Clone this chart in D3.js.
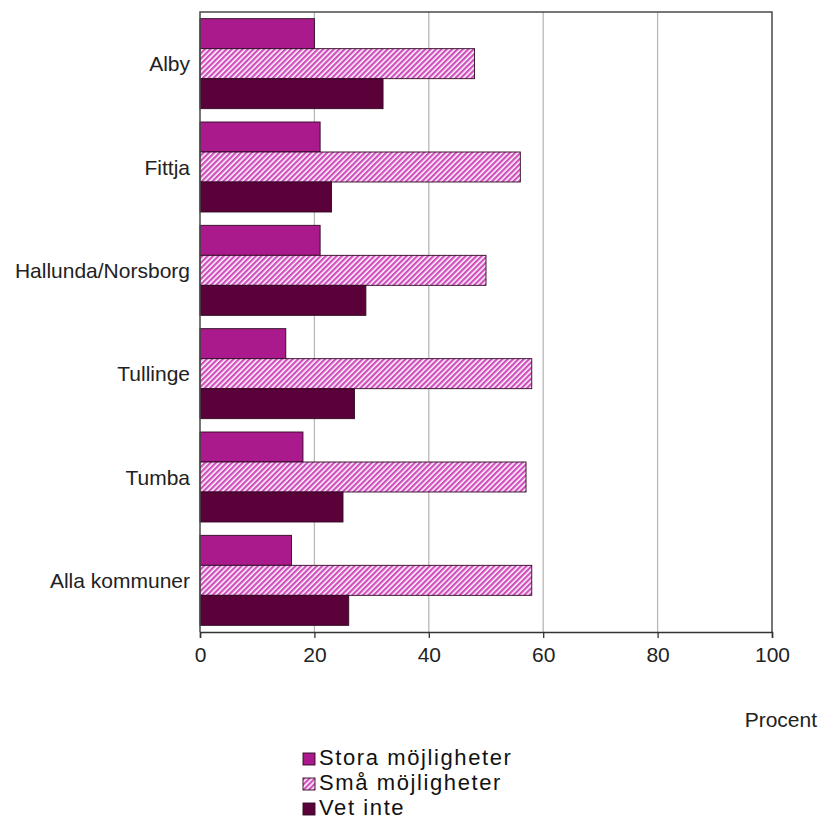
<!DOCTYPE html>
<html>
<head>
<meta charset="utf-8">
<script src="https://cdnjs.cloudflare.com/ajax/libs/d3/7.8.5/d3.min.js"></script>
<style>
  html, body { margin: 0; padding: 0; background: #fff; }
  svg { display: block; font-family: "Liberation Sans", Arial, sans-serif; }
</style>
</head>
<body>
<svg id="chart" width="819" height="821"></svg>
<script>
const categories = ["Alby", "Fittja", "Hallunda/Norsborg", "Tullinge", "Tumba", "Alla kommuner"];
const seriesNames = ["Stora möjligheter", "Små möjligheter", "Vet inte"];
const storaValues = [20, 21, 21, 15, 18, 16];
const smaValues = [48, 56, 50, 58, 57, 58];
const vetInteValues = [32, 23, 29, 27, 25, 26];
const xTicks = [0, 20, 40, 60, 80, 100];
const axisTitle = "Procent";

const seriesValues = [storaValues, smaValues, vetInteValues];
const fills = ["#ab1a8c", "url(#hatch)", "#5b0139"];

const svg = d3.select("#chart");
const mLeft = 200, mRight = 772, mTop = 12, mBottom = 632;

// hatch pattern
const defs = svg.append("defs");
const pat = defs.append("pattern")
  .attr("id", "hatch").attr("patternUnits", "userSpaceOnUse")
  .attr("width", 3.8).attr("height", 3.8)
  .attr("patternTransform", "rotate(45)");
pat.append("rect").attr("width", 3.8).attr("height", 3.8).attr("fill", "#ffffff");
pat.append("rect").attr("width", 2.3).attr("height", 3.8).attr("fill", "#cf4fbd");

const x = d3.scaleLinear().domain([0, 100]).range([mLeft, mRight]);
const p = 0.129;
const y = d3.scaleBand().domain(categories).range([mTop, mBottom])
  .paddingInner(p).paddingOuter(p / 2);
const ySub = d3.scaleBand().domain(seriesNames).range([0, y.bandwidth()]).padding(0);

// gridlines
svg.append("g").selectAll("line").data(xTicks.filter(t => t > 0 && t < 100)).join("line")
  .attr("x1", d => x(d)).attr("x2", d => x(d))
  .attr("y1", mTop).attr("y2", mBottom)
  .attr("stroke", "#b8b8b8").attr("stroke-width", 1.3);

// bars
const rows = [];
categories.forEach((c, i) => seriesNames.forEach((s, j) => rows.push({c, s, j, v: seriesValues[j][i]})));
svg.append("g").selectAll("rect").data(rows).join("rect")
  .attr("x", x(0))
  .attr("y", d => y(d.c) + ySub(d.s))
  .attr("width", d => x(d.v) - x(0))
  .attr("height", ySub.bandwidth())
  .attr("fill", d => fills[d.j])
  .attr("stroke", "#2e0a22").attr("stroke-width", 0.9);

// frame (left, top, right)
svg.append("path")
  .attr("d", `M${mLeft},${mBottom}V${mTop}H${mRight}V${mBottom}`)
  .attr("fill", "none").attr("stroke", "#4a4a4a").attr("stroke-width", 1.5);

// x axis
const xAxis = svg.append("g").attr("transform", `translate(0,${mBottom})`)
  .call(d3.axisBottom(x).tickValues(xTicks).tickSize(6).tickPadding(9).tickFormat(d3.format("d")));
xAxis.select(".domain").attr("stroke", "#333").attr("stroke-width", 1.5);
xAxis.selectAll(".tick line").attr("stroke", "#333").attr("stroke-width", 1.3);
xAxis.selectAll("text").attr("font-size", 21).attr("fill", "#222")
  .attr("font-family", "'Liberation Sans', Arial, sans-serif");

// category labels
svg.append("g").selectAll("text").data(categories).join("text")
  .attr("x", 190).attr("y", d => y(d) + y.bandwidth() / 2 + 7.5)
  .attr("text-anchor", "end").attr("font-size", 21).attr("fill", "#222")
  .text(d => d);

// axis title
svg.append("text").attr("x", 817).attr("y", 727).attr("text-anchor", "end")
  .attr("font-size", 21).attr("fill", "#222").text(axisTitle);

// legend
const leg = svg.append("g").selectAll("g").data(seriesNames).join("g")
  .attr("transform", (d, i) => `translate(303,${753 + i * 25})`);
leg.append("rect").attr("width", 12).attr("height", 12)
  .attr("fill", (d, i) => fills[i]).attr("stroke", "#2e0a22").attr("stroke-width", 0.9);
leg.append("text").attr("x", 16).attr("y", 12)
  .attr("font-size", 22).attr("letter-spacing", 1.6).attr("fill", "#111").text(d => d);
</script>
</body>
</html>
